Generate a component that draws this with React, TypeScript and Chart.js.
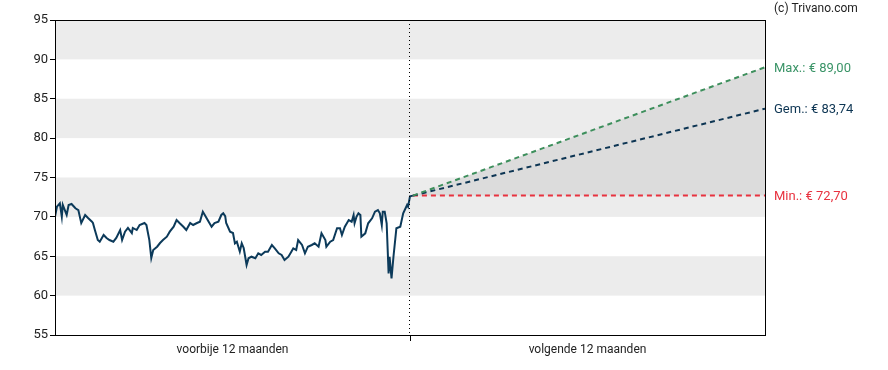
import React, { useEffect, useRef } from "react";
import { Chart, registerables } from "chart.js";

Chart.register(...registerables);

// Days relative to today (negative = past 12 months)
const historyDays = [
  -365, -363, -360, -358, -357, -353, -351, -348, -344, -341, -338, -334, -331, -327, -326, -324,
  -321, -319, -315, -312, -309, -305, -302, -298, -296, -293, -290, -286, -285, -281, -278, -273,
  -271, -268, -266, -264, -260, -257, -254, -250, -247, -243, -240, -237, -233, -230, -226, -223,
  -219, -216, -213, -211, -207, -204, -201, -197, -194, -192, -190, -189, -185, -182, -180, -178,
  -175, -173, -171, -168, -166, -163, -159, -156, -153, -149, -146, -142, -139, -135, -132, -129,
  -125, -122, -120, -117, -115, -111, -108, -105, -101, -98, -94, -91, -87, -86, -82, -79,
  -75, -72, -70, -67, -63, -60, -58, -57, -55, -53, -51, -50, -46, -43, -39, -36,
  -33, -31, -29, -28, -26, -24, -22, -21, -19, -17, -14, -10, -7, -3, -2, 0, 3,
];
const historyValues = [
  70.02, 71.29, 71.72, 70.02, 71.51, 70.24, 71.51, 71.64, 71.09, 70.87, 69.22, 70.24, 69.86, 69.39, 69.22, 68.33,
  67.06, 66.85, 67.7, 67.32, 67.06, 66.85, 67.32, 68.33, 67.06, 68.12, 68.59, 67.95, 68.59, 68.33, 68.97, 69.22,
  68.97, 67.06, 64.78, 65.79, 66.21, 66.68, 67.06, 67.48, 68.12, 68.75, 69.6, 69.22, 68.75, 68.33, 69.22, 68.97,
  69.22, 69.39, 70.66, 70.24, 69.39, 68.75, 69.22, 69.39, 70.24, 70.45, 70.1, 69.22, 68.12, 67.95, 66.64, 66.85,
  65.58, 66.64, 66.05, 63.89, 64.74, 64.94, 64.74, 65.37, 65.16, 65.58, 65.58, 66.43, 66.01, 65.37, 65.16, 64.52,
  64.94, 65.58, 66.01, 65.79, 67.06, 66.43, 65.37, 66.21, 66.43, 66.64, 66.21, 67.91, 67.06, 66.21, 66.85, 67.06,
  68.55, 68.55, 67.7, 68.75, 69.6, 69.39, 70.24, 69.18, 70.02, 70.45, 70.24, 67.48, 67.91, 69.18, 69.82, 70.66,
  70.87, 70.45, 68.97, 70.66, 70.66, 69.18, 62.83, 64.94, 62.2, 64.94, 68.55, 68.75, 70.45, 71.51, 71.29, 72.6, 72.7,
];

const forecastDays = [3, 365];
const forecastMax = [72.7, 89.0];
const forecastAvg = [72.7, 83.74];
const forecastMin = [72.7, 72.7];

const forecastLabels = ["Max.: € 89,00", "Gem.: € 83,74", "Min.: € 72,70"];
const xLabels = ["voorbije 12 maanden", "volgende 12 maanden"];
const yTicks = [55, 60, 65, 70, 75, 80, 85, 90, 95];
const bandRanges = [
  [60, 65],
  [70, 75],
  [80, 85],
  [90, 95],
];
const credit = "(c) Trivano.com";

const GREEN = "#3d8f5c";
const GREEN_TEXT = "#3a9467";
const NAVY = "#0d3553";
const RED = "#e8323f";
const FONT = "Roboto, 'Noto Sans', sans-serif";

export default function App() {
  const canvasRef = useRef<HTMLCanvasElement | null>(null);

  useEffect(() => {
    const canvas = canvasRef.current;
    if (!canvas) return;

    const decor = {
      id: "decor",
      beforeDraw(chart: any) {
        const { ctx, chartArea } = chart;
        const y = chart.scales.y;
        ctx.save();
        ctx.fillStyle = "#ececec";
        for (const [lo, hi] of bandRanges) {
          const top = y.getPixelForValue(hi);
          const bot = y.getPixelForValue(lo);
          ctx.fillRect(chartArea.left, top, chartArea.right - chartArea.left, bot - top);
        }
        ctx.restore();
      },
      afterDraw(chart: any) {
        const { ctx, chartArea } = chart;
        const x = chart.scales.x;
        const y = chart.scales.y;
        ctx.save();
        // frame
        ctx.strokeStyle = "#000";
        ctx.lineWidth = 1;
        ctx.strokeRect(
          Math.round(chartArea.left) + 0.5,
          Math.round(chartArea.top) + 0.5,
          Math.round(chartArea.right - chartArea.left),
          Math.round(chartArea.bottom - chartArea.top)
        );
        // dotted today line
        const xm = Math.round(x.getPixelForValue(0)) - 0.5;
        ctx.setLineDash([1, 3]);
        ctx.beginPath();
        ctx.moveTo(xm, chartArea.top);
        ctx.lineTo(xm, chartArea.bottom);
        ctx.stroke();
        ctx.setLineDash([]);
        // right labels
        ctx.font = `13px ${FONT}`;
        ctx.textAlign = "left";
        ctx.textBaseline = "middle";
        const ends = [forecastMax[1], forecastAvg[1], forecastMin[1]];
        const colors = [GREEN_TEXT, NAVY, RED];
        ends.forEach((v, i) => {
          ctx.fillStyle = colors[i];
          ctx.fillText(forecastLabels[i], chartArea.right + 9, y.getPixelForValue(v) + 1);
        });
        // credit
        ctx.font = `12px ${FONT}`;
        ctx.fillStyle = "#222";
        ctx.fillText(credit, chartArea.right + 9, 9);
        ctx.restore();
      },
    };

    const chart = new Chart(canvas, {
      type: "line",
      data: {
        datasets: [
          {
            label: "max",
            data: forecastDays.map((d, i) => ({ x: d, y: forecastMax[i] })),
            borderColor: GREEN,
            borderWidth: 2,
            borderDash: [5, 4],
            pointRadius: 0,
            fill: { target: 2 },
            backgroundColor: "#dcdcdc",
          },
          {
            label: "avg",
            data: forecastDays.map((d, i) => ({ x: d, y: forecastAvg[i] })),
            borderColor: NAVY,
            borderWidth: 2,
            borderDash: [5, 4],
            pointRadius: 0,
            fill: false,
          },
          {
            label: "min",
            data: forecastDays.map((d, i) => ({ x: d, y: forecastMin[i] })),
            borderColor: RED,
            borderWidth: 2,
            borderDash: [5, 4],
            pointRadius: 0,
            fill: false,
          },
          {
            label: "history",
            data: historyDays.map((d, i) => ({ x: d, y: historyValues[i] })),
            borderColor: "#0c3a5a",
            borderWidth: 2,
            pointRadius: 0,
            tension: 0,
            fill: false,
          },
        ],
      },
      options: {
        animation: false,
        responsive: true,
        maintainAspectRatio: false,
        layout: { padding: { top: 20, right: 123, left: 0, bottom: 0 } },
        plugins: {
          legend: { display: false },
          tooltip: { enabled: false },
          filler: { drawTime: "beforeDatasetsDraw" },
        },
        scales: {
          x: {
            type: "linear",
            min: -365,
            max: 365,
            afterBuildTicks(scale: any) {
              scale.ticks = [{ value: -182.5 }, { value: 0 }, { value: 182.5 }];
            },
            afterFit(scale: any) {
              scale.height = 35;
            },
            ticks: {
              autoSkip: false,
              maxRotation: 0,
              color: "#222",
              font: { family: FONT, size: 12 },
              padding: 2,
              callback: (v: any) => (v < 0 ? xLabels[0] : v > 0 ? xLabels[1] : ""),
            },
            grid: {
              drawOnChartArea: false,
              tickLength: 6,
              tickColor: (c: any) => (c.tick && c.tick.value === 0 ? "#000" : "rgba(0,0,0,0)"),
            },
            border: { display: true, color: "#000" },
          },
          y: {
            min: 55,
            max: 95,
            afterBuildTicks(scale: any) {
              scale.ticks = yTicks.map((v) => ({ value: v }));
            },
            afterFit(scale: any) {
              scale.width = 55;
            },
            ticks: {
              color: "#222",
              font: { family: FONT, size: 13 },
              padding: 2,
            },
            grid: { drawOnChartArea: false, tickLength: 5, tickColor: "#000" },
            border: { display: true, color: "#000" },
          },
        },
      },
      plugins: [decor],
    });

    return () => chart.destroy();
  }, []);

  return (
    <div style={{ position: "fixed", left: 0, top: 0, width: 888, height: 370, background: "#fff" }}>
      <canvas ref={canvasRef} />
    </div>
  );
}
